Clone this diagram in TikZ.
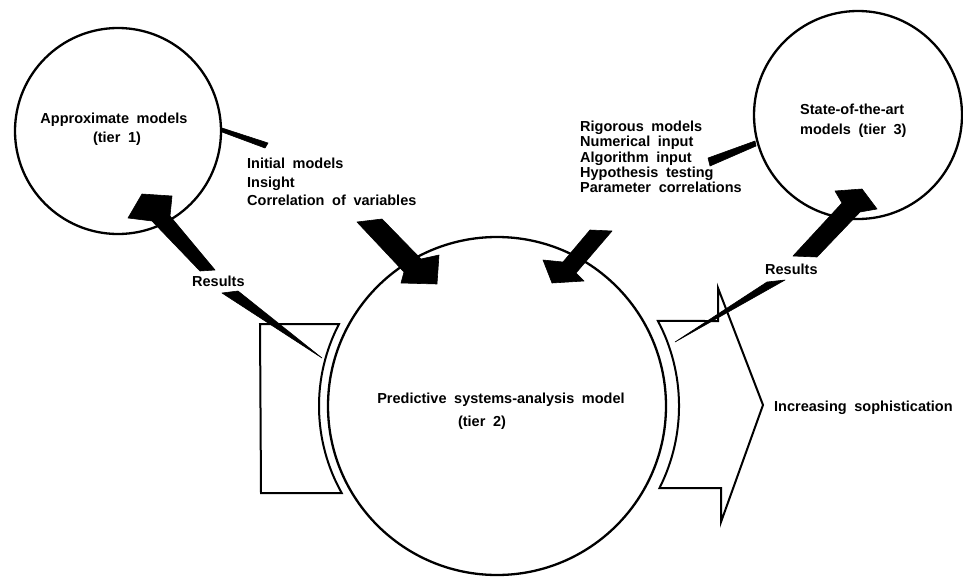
\documentclass[tikz,border=0pt]{standalone}
\usepackage{fontspec}
\setmainfont[WordSpace=1.9]{Liberation Sans}
\begin{document}
\begin{tikzpicture}[x=1pt,y=-1pt,
  lbl/.style={font=\fontsize{14.5}{17}\selectfont\bfseries, inner sep=0pt},
  ring/.style={circle, draw, line width=2.3pt, inner sep=0pt},
  blk/.style={fill=black, draw=black, line width=0.6pt, line join=round},
  outl/.style={draw, line width=2pt, line join=miter}]
\useasboundingbox (0,0) rectangle (963,578);

% big hollow arrow (behind main circle)
\draw[outl] (260,324) -- (339,324) arc[start angle=152.57, end angle=209.3, radius=178pt] -- (261,493) -- cycle;
\draw[outl] (721,488) -- (659.5,488) arc[start angle=-26.78, end angle=27.85, radius=182pt] -- (718,321) -- (718,288) -- (763,405) -- (721,522) -- cycle;

% circles
\node[ring, minimum size=206pt, fill=white] (t1) at (118,131) {};
\node[ring, minimum size=208pt] (t3) at (858,115) {};
\node[ring, minimum size=338pt] (t2) at (497,406) {};

% circle texts
\node[lbl, anchor=base] (t1a) at (114,123) {Approximate models};
\node[lbl, anchor=base] (t1b) at (117,142) {(tier 1)};
\node[lbl, anchor=base west] (t3a) at (800,114) {State-of-the-art};
\node[lbl, anchor=base west] (t3b) at (800,134) {models (tier 3)};
\node[lbl, anchor=base] (t2a) at (501,403) {Predictive systems-analysis model};
\node[lbl, anchor=base] (t2b) at (482,426) {(tier 2)};

% lists
\node[lbl, anchor=base west] (l1) at (247,168) {Initial models};
\node[lbl, anchor=base west] (l2) at (247,187) {Insight};
\node[lbl, anchor=base west] (l3) at (247,205) {Correlation of variables};
\node[lbl, anchor=base west] (r1) at (580,131) {Rigorous models};
\node[lbl, anchor=base west] (r2) at (580,146) {Numerical input};
\node[lbl, anchor=base west] (r3) at (580,162) {Algorithm input};
\node[lbl, anchor=base west] (r4) at (580,177) {Hypothesis testing};
\node[lbl, anchor=base west] (r5) at (580,192) {Parameter correlations};

% other labels
\node[lbl, anchor=base west] (res1) at (192,286) {Results};
\node[lbl, anchor=base west] (res3) at (765,274) {Results};
\node[lbl, anchor=base west] (inc) at (774,411) {Increasing sophistication};

% thin wedges from side circles to lists
\fill[blk] (222,128) -- (268,143) -- (265,148) -- (222,132) -- cycle;
\fill[blk] (755,141) -- (708,158) -- (710,166) -- (756,146) -- cycle;

% results arrow to tier 1
\fill[blk] (142,194) -- (172,196) -- (170,216) -- (215,270) -- (200,271) -- (152,221) -- (128,218) -- cycle;
\fill[blk] (222,293) -- (238,291) -- (322,358) -- cycle;

% input arrows into tier 2
\fill[blk] (357,222) -- (382,219) -- (421,259) -- (439,255) -- (437,284) -- (401,283) -- (404,272) -- cycle;
\fill[blk] (590,230) -- (612,231) -- (576,273) -- (584,281) -- (552,283) -- (543,260) -- (563,262) -- cycle;

% results arrow to tier 3
\fill[blk] (793,256) -- (817,257) -- (860,212) -- (877,209) -- (862,189) -- (835,191) -- (842,203) -- cycle;
\fill[blk] (767,282) -- (785,280) -- (675,342) -- cycle;
\end{tikzpicture}
\end{document}
